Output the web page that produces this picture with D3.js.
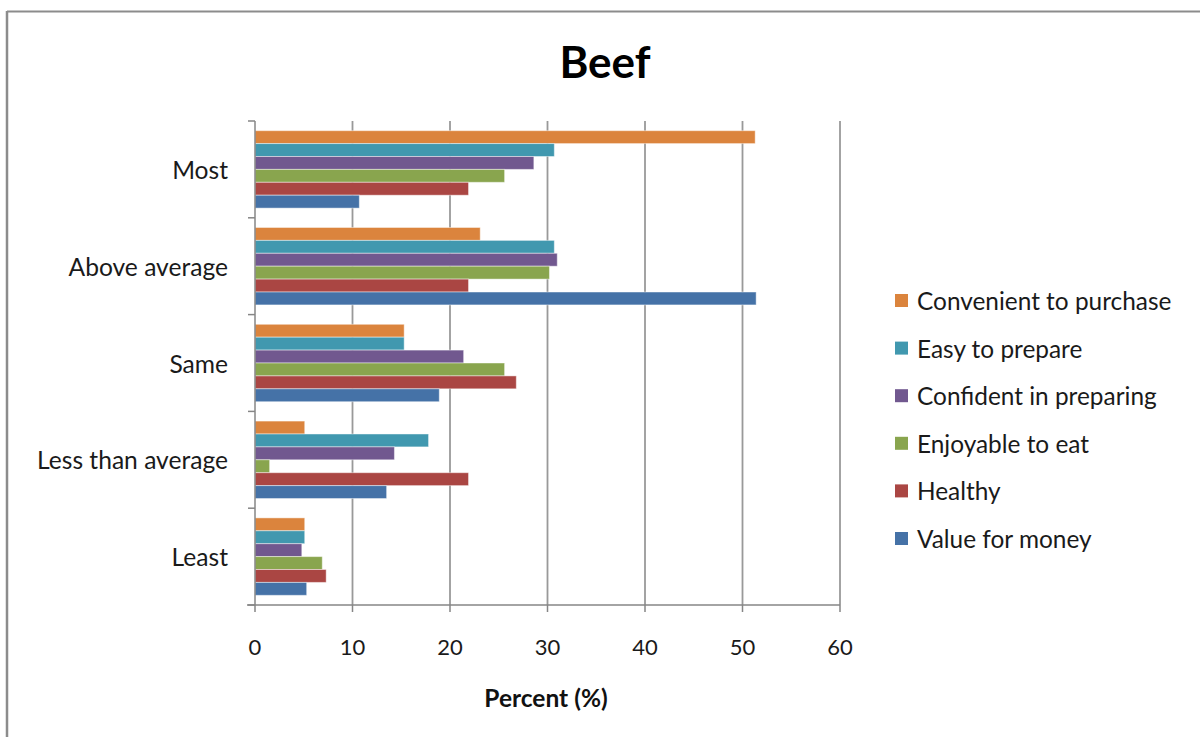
<!DOCTYPE html>
<html>
<head>
<meta charset="utf-8">
<script src="https://cdn.jsdelivr.net/npm/d3@7"></script>
<style>
  html, body { margin: 0; padding: 0; background: #fff; }
  svg { display: block; font-family: Lato, "Open Sans", sans-serif; }
</style>
</head>
<body>
<svg id="chart" width="1200" height="737"></svg>
<script>
const categories = ["Most", "Above average", "Same", "Less than average", "Least"];
const seriesNames = ["Convenient to purchase", "Easy to prepare", "Confident in preparing", "Enjoyable to eat", "Healthy", "Value for money"];
const seriesColors = ["#DB843D", "#4198AF", "#71588F", "#89A54E", "#AA4643", "#4572A7"];
const convenient = [51.3, 23.1, 15.3, 5.1, 5.1];
const easy       = [30.7, 30.7, 15.3, 17.8, 5.1];
const confident  = [28.6, 31.0, 21.4, 14.3, 4.8];
const enjoyable  = [25.6, 30.2, 25.6, 1.5, 6.9];
const healthy    = [21.9, 21.9, 26.8, 21.9, 7.3];
const value      = [10.7, 51.4, 18.9, 13.5, 5.3];
const xTicks = [0, 10, 20, 30, 40, 50, 60];

const seriesValues = [convenient, easy, confident, enjoyable, healthy, value];

const svg = d3.select("#chart");

// frame
svg.append("line").attr("x1", 7).attr("x2", 1200).attr("y1", 11.5).attr("y2", 11.5)
  .attr("stroke", "#8c8c8c").attr("stroke-width", 2);
svg.append("line").attr("x1", 7).attr("x2", 7).attr("y1", 11).attr("y2", 737)
  .attr("stroke", "#8c8c8c").attr("stroke-width", 2.5);

const x = d3.scaleLinear().domain([0, 60]).range([255, 840]);
const y = d3.scaleBand().domain(categories).range([121, 605]).paddingInner(0.2).paddingOuter(0.1);
const y1 = d3.scaleBand().domain(seriesNames).range([0, y.bandwidth()]).padding(0);

// gridlines
svg.append("g").selectAll("line").data(xTicks.filter(d => d > 0)).join("line")
  .attr("x1", d => x(d)).attr("x2", d => x(d)).attr("y1", 121).attr("y2", 605)
  .attr("stroke", "#999").attr("stroke-width", 1.8);

// bars
const rows = [];
categories.forEach((c, i) => seriesNames.forEach((s, j) => rows.push({c, s, j, v: seriesValues[j][i]})));
svg.append("g").selectAll("rect").data(rows).join("rect")
  .attr("x", x(0))
  .attr("y", d => y(d.c) + y1(d.s))
  .attr("width", d => x(d.v) - x(0))
  .attr("height", y1.bandwidth())
  .attr("fill", d => seriesColors[d.j])
  .attr("stroke", "rgba(255,255,255,0.45)")
  .attr("stroke-width", 1);

// y axis
const yAxisG = svg.append("g");
yAxisG.append("line").attr("x1", 255).attr("x2", 255).attr("y1", 121).attr("y2", 605)
  .attr("stroke", "#868686").attr("stroke-width", 1.5);
const bounds = [121].concat(categories.map(c => y(c) + y.bandwidth() + y.step() * y.paddingInner() / 2));
bounds[bounds.length - 1] = 605;
yAxisG.selectAll("line.t").data(bounds).join("line").attr("class", "t")
  .attr("x1", 248).attr("x2", 255).attr("y1", d => d).attr("y2", d => d)
  .attr("stroke", "#868686").attr("stroke-width", 1.5);
yAxisG.selectAll("text").data(categories).join("text")
  .attr("x", 228).attr("y", d => y(d) + y.bandwidth() / 2)
  .attr("text-anchor", "end").attr("dominant-baseline", "central")
  .attr("font-size", 24.6).attr("fill", "#1a1a1a").text(d => d);

// x axis
const xAxisG = svg.append("g");
xAxisG.append("line").attr("x1", 247).attr("x2", 840).attr("y1", 605).attr("y2", 605)
  .attr("stroke", "#868686").attr("stroke-width", 1.5);
xAxisG.selectAll("line.t").data(xTicks).join("line").attr("class", "t")
  .attr("x1", d => x(d)).attr("x2", d => x(d)).attr("y1", 605).attr("y2", 612)
  .attr("stroke", "#868686").attr("stroke-width", 1.5);
xAxisG.selectAll("text").data(xTicks).join("text")
  .attr("x", d => x(d)).attr("y", 646)
  .attr("text-anchor", "middle").attr("dominant-baseline", "central")
  .attr("font-size", 22).attr("fill", "#1a1a1a").text(d => d);

// titles
svg.append("text").attr("x", 605).attr("y", 78).attr("text-anchor", "middle")
  .attr("font-size", 44).attr("font-weight", "bold").attr("fill", "#000").text("Beef");
svg.append("text").attr("x", 546).attr("y", 707).attr("text-anchor", "middle")
  .attr("font-size", 24.5).attr("font-weight", "bold").attr("fill", "#111").text("Percent (%)");

// legend
const legend = svg.append("g");
const lg = legend.selectAll("g").data(seriesNames).join("g")
  .attr("transform", (d, i) => `translate(895, ${300.5 + i * 47.6})`);
lg.append("rect").attr("x", 0).attr("y", -6.5).attr("width", 13).attr("height", 13)
  .attr("fill", (d, i) => seriesColors[i]);
lg.append("text").attr("x", 22).attr("y", 0).attr("dominant-baseline", "central")
  .attr("font-size", 24.4).attr("fill", "#1a1a1a").text(d => d);
</script>
</body>
</html>
